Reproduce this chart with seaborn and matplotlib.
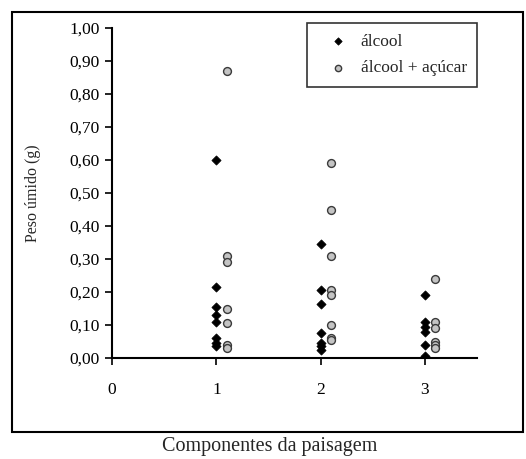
import pandas as pd
import seaborn as sns
import matplotlib.pyplot as plt
from matplotlib.patches import Rectangle
from matplotlib.ticker import FuncFormatter

sns.set_style("ticks")
plt.rcParams['font.family'] = ['Liberation Serif', 'DejaVu Serif']

# componentes da paisagem (1, 2, 3) e pesos
comp_alcool = [1, 1, 1, 1, 1, 1, 1, 1,
               2, 2, 2, 2, 2, 2, 2,
               3, 3, 3, 3, 3, 3]
peso_alcool = [0.60, 0.215, 0.155, 0.13, 0.11, 0.06, 0.045, 0.035,
               0.345, 0.205, 0.165, 0.075, 0.045, 0.035, 0.025,
               0.19, 0.11, 0.095, 0.08, 0.04, 0.005]

comp_acucar = [1, 1, 1, 1, 1, 1, 1,
               2, 2, 2, 2, 2, 2, 2, 2,
               3, 3, 3, 3, 3, 3]
peso_acucar = [0.87, 0.31, 0.29, 0.15, 0.105, 0.04, 0.03,
               0.59, 0.45, 0.31, 0.205, 0.19, 0.10, 0.06, 0.055,
               0.24, 0.11, 0.09, 0.05, 0.04, 0.03]

series = ["álcool", "álcool + açúcar"]
xticks = [0, 1, 2, 3]

df1 = pd.DataFrame({"comp": comp_alcool, "peso": peso_alcool})
df2 = pd.DataFrame({"comp": comp_acucar, "peso": peso_acucar})
df2["comp"] = df2["comp"] + 0.1  # deslocado para a direita como no original

fig = plt.figure(figsize=(5.26, 4.59), dpi=100)
ax = fig.add_axes([0.213, 0.22, 0.694, 0.719])

sns.scatterplot(data=df1, x="comp", y="peso", marker="D", s=22, color="black",
                edgecolor="black", linewidth=0.5, label=series[0], ax=ax, zorder=3)
sns.scatterplot(data=df2, x="comp", y="peso", marker="o", s=32, color="#c4c4c4",
                edgecolor="#3a3a3a", linewidth=1.0, label=series[1], ax=ax, zorder=3)

ax.set_xlim(0, 3.5)
ax.set_ylim(0, 1.0)
ax.set_xticks(xticks)
ax.set_yticks([i / 10 for i in range(11)])
ax.yaxis.set_major_formatter(FuncFormatter(lambda v, p: f"{v:.2f}".replace(".", ",")))
ax.tick_params(axis="both", direction="out", length=5, width=1.2, colors="black",
               labelsize=12.5, pad=4)
ax.tick_params(axis="x", pad=12)
for s in ["top", "right"]:
    ax.spines[s].set_visible(False)
for s in ["left", "bottom"]:
    ax.spines[s].set_linewidth(1.5)
    ax.spines[s].set_color("black")

ax.set_xlabel("")
ax.set_ylabel("Peso úmido (g)", fontsize=11.5, labelpad=20)

leg = ax.legend(loc="upper right", bbox_to_anchor=(1.0, 1.015), frameon=True,
                fancybox=False, edgecolor="black", fontsize=12.5,
                handletextpad=0.1, borderpad=0.6, labelspacing=0.6,
                handlelength=2.4, borderaxespad=0, markerscale=0.8)
leg.get_frame().set_linewidth(1.2)

# moldura externa
fig.patches.append(Rectangle((12 / 526, 1 - 432 / 459), 511 / 526, 420 / 459,
                             transform=fig.transFigure, fill=False,
                             edgecolor="black", linewidth=1.5))

fig.text(0.512, 1 - 447 / 459, "Componentes da paisagem", ha="center", va="center",
         fontsize=14.5)

fig.savefig("out.png", dpi=100)
